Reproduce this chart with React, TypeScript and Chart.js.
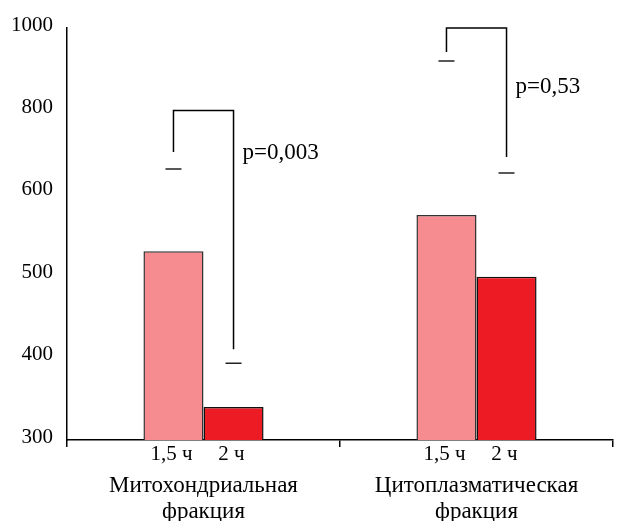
import React, { useEffect, useRef } from "react";
import { Chart, registerables } from "chart.js";

Chart.register(...registerables);

// ---- data ----
const categories = [
  ["Митохондриальная", "фракция"],
  ["Цитоплазматическая", "фракция"],
];
const seriesNames = ["1,5 ч", "2 ч"];
const series15 = [529, 573];
const series2 = [340, 498];
const errTop15 = [658, 920];
const errTop2 = [393, 648];
const bracketTop = [800, 1000];
const bracketLeftEnd = [699, 942];
const bracketRightEnd = [410, 687];
const pLabels = ["p=0,003", "p=0,53"];
const pLabelAt = [697, 857];
const yTickValues = [300, 400, 500, 600, 800, 1000];

// piecewise mapping of real values onto the evenly spaced (broken) axis
function toAxis(v: number): number {
  for (let i = 0; i < yTickValues.length - 1; i++) {
    const a = yTickValues[i];
    const b = yTickValues[i + 1];
    if (v <= b || i === yTickValues.length - 2) {
      return i + (v - a) / (b - a);
    }
  }
  return 0;
}

const FONT = '"Liberation Serif", "Times New Roman", serif';

const annotations = {
  id: "annotations",
  afterDatasetsDraw(chart: any) {
    const ctx = chart.ctx;
    const ys = chart.scales.y;
    const m0 = chart.getDatasetMeta(0);
    const m1 = chart.getDatasetMeta(1);
    const bottom = chart.chartArea.bottom;
    ctx.save();
    for (let i = 0; i < categories.length; i++) {
      const x0 = m0.data[i].x;
      const x1 = m1.data[i].x;
      const yt = ys.getPixelForValue(toAxis(bracketTop[i]));
      const yl = ys.getPixelForValue(toAxis(bracketLeftEnd[i]));
      const yr = ys.getPixelForValue(toAxis(bracketRightEnd[i]));
      ctx.strokeStyle = "#000";
      ctx.lineWidth = 1.5;
      ctx.beginPath();
      ctx.moveTo(x0, yl);
      ctx.lineTo(x0, yt);
      ctx.lineTo(x1, yt);
      ctx.lineTo(x1, yr);
      ctx.stroke();

      // error caps
      ctx.strokeStyle = "#222";
      ctx.lineWidth = 1.5;
      const e0 = ys.getPixelForValue(toAxis(errTop15[i]));
      const e1 = ys.getPixelForValue(toAxis(errTop2[i]));
      ctx.beginPath();
      ctx.moveTo(x0 - 8, e0);
      ctx.lineTo(x0 + 8, e0);
      ctx.moveTo(x1 - 8, e1);
      ctx.lineTo(x1 + 8, e1);
      ctx.stroke();

      // p labels
      ctx.fillStyle = "#000";
      ctx.font = "23px " + FONT;
      ctx.textAlign = "left";
      ctx.textBaseline = "middle";
      ctx.fillText(pLabels[i], x1 + 9, ys.getPixelForValue(toAxis(pLabelAt[i])));

      // series sub-labels
      ctx.font = "21px " + FONT;
      ctx.textAlign = "center";
      ctx.fillText(seriesNames[0], x0 - 2, bottom + 14);
      ctx.fillText(seriesNames[1], x1 - 2, bottom + 14);
    }
    ctx.restore();
  },
};

export default function App() {
  const ref = useRef<HTMLCanvasElement | null>(null);

  useEffect(() => {
    document.body.style.margin = "0";
    const canvas = ref.current;
    if (!canvas) return;
    const chart = new Chart(canvas, {
      type: "bar",
      data: {
        labels: categories,
        datasets: [
          {
            label: seriesNames[0],
            data: series15.map(toAxis),
            backgroundColor: "#F78C90",
            borderColor: "#333",
            borderWidth: 1.5,
            categoryPercentage: 0.44,
            barPercentage: 1.0,
          },
          {
            label: seriesNames[1],
            data: series2.map(toAxis),
            backgroundColor: "#ED1C24",
            borderColor: "#111",
            borderWidth: 1.5,
            categoryPercentage: 0.44,
            barPercentage: 1.0,
          },
        ],
      },
      options: {
        animation: false,
        responsive: false,
        maintainAspectRatio: false,
        layout: { padding: { top: 28, right: 10, bottom: 0, left: 0 } },
        plugins: {
          legend: { display: false },
          tooltip: { enabled: false },
        },
        scales: {
          x: {
            grid: {
              display: true,
              offset: true,
              drawOnChartArea: false,
              drawTicks: true,
              tickLength: 7,
              color: (c: any) => (c.index === categories.length ? "rgba(0,0,0,0)" : "#000"),
              lineWidth: 1.5,
            },
            border: { display: true, color: "#000", width: 1.5 },
            ticks: {
              color: "#000",
              font: { family: FONT, size: 23, lineHeight: 1.17 },
              padding: 25,
              maxRotation: 0,
            },
            afterFit(scale: any) {
              scale.height = 81;
            },
          },
          y: {
            min: 0,
            max: 5,
            grid: { display: false, drawTicks: false },
            border: { display: true, color: "#000", width: 1.5 },
            ticks: {
              stepSize: 1,
              color: "#000",
              font: { family: FONT, size: 21 },
              padding: 14,
              labelOffset: -3,
              callback: (v: any) => {
                const idx = Math.round(Number(v));
                return yTickValues[idx] !== undefined ? String(yTickValues[idx]) : "";
              },
            },
            afterFit(scale: any) {
              scale.width = 67;
            },
          },
        },
      },
      plugins: [annotations],
    });
    return () => chart.destroy();
  }, []);

  return (
    <div style={{ position: "fixed", left: 0, top: 0, width: 623, height: 521, background: "#fff" }}>
      <canvas ref={ref} width={623} height={521} style={{ width: 623, height: 521, display: "block" }} />
    </div>
  );
}
